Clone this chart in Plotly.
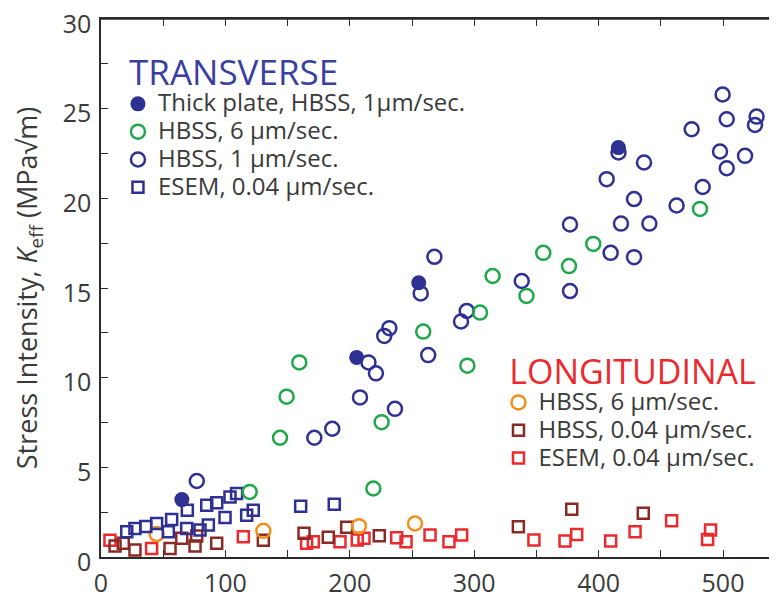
import plotly.graph_objects as go

# ---- data ----
thick_x = [65, 205.5, 255.4, 415.9]
thick_y = [3.2, 11.13, 15.29, 22.83]

t6_x = [119.5, 143.9, 149.2, 159.4, 218.9, 225.6, 259, 294.5, 304.7, 314.8, 342, 355.5, 376.2, 395.7, 481.5]
t6_y = [3.63, 6.65, 8.94, 10.85, 3.82, 7.52, 12.57, 10.67, 13.63, 15.67, 14.56, 16.96, 16.22, 17.46, 19.41]

t1_x = [77, 171.5, 185.9, 208.2, 236.3, 215, 221, 227.7, 231.8, 263, 257, 268, 289.4, 294, 338.2, 377, 377,
        409.7, 428.5, 418, 440.8, 428.5, 406.5, 436.5, 416, 462.7, 483.7, 474.8, 497.6, 503, 517.7, 499.7,
        503, 527, 525.7]
t1_y = [4.24, 6.65, 7.15, 8.9, 8.26, 10.85, 10.24, 12.33, 12.76, 11.26, 14.7, 16.74, 13.13, 13.72, 15.39, 14.83,
        18.54, 16.96, 16.72, 18.59, 18.59, 19.96, 21.07, 22.0, 22.56, 19.6, 20.63, 23.85, 22.61, 21.68, 22.37,
        25.79, 24.41, 24.56, 24.09]

tesem_x = [20.7, 27.3, 36, 44.7, 54.1, 56.8, 68.9, 69.4, 79.6, 85, 86.3, 93, 99.7, 103.7, 109, 117.1, 122.4, 160.5, 187.5]
tesem_y = [1.41, 1.59, 1.7, 1.87, 1.41, 2.09, 1.59, 2.61, 1.5, 2.89, 1.78, 3.02, 2.2, 3.35, 3.54, 2.33, 2.61, 2.83, 2.94]

l6_x = [44.7, 130.5, 207.4, 252.4]
l6_y = [1.28, 1.46, 1.72, 1.87]

l004_x = [11.3, 17.9, 27.3, 55.5, 64.9, 75.6, 76.9, 93, 130.5, 163.2, 182.7, 197.5, 223.7, 335.5, 378.4, 435.9]
l004_y = [0.61, 0.76, 0.39, 0.48, 1.04, 0.61, 1.17, 0.76, 0.94, 1.32, 1.1, 1.66, 1.19, 1.69, 2.66, 2.44]

lesem_x = [7.2, 40.7, 114.4, 165.3, 170.7, 192.1, 206, 211.4, 237.7, 245.2, 264.5, 279.7, 289.9, 348, 373,
           382.4, 409.7, 429.3, 458.7, 487.6, 490]
lesem_y = [0.94, 0.48, 1.13, 0.76, 0.85, 0.85, 0.95, 1.04, 1.08, 0.85, 1.23, 0.85, 1.23, 0.95, 0.89,
           1.26, 0.89, 1.41, 2.02, 0.98, 1.5]

x_ticks = [0, 100, 200, 300, 400, 500]
y_ticks = [0, 5, 10, 15, 20, 25, 30]

# ---- styles ----
NAVY = "#2e3192"
GREEN = "#1fa84a"
ORANGE = "#f0901e"
BROWN = "#8b2a25"
RED = "#ec2a2e"
TXT = "#3a3a3a"
AX = "#2a2a2a"
FONT = "Open Sans"

fig = go.Figure()

def add(x, y, name, color, symbol, size, legend, rank, filled=False):
    fig.add_trace(go.Scatter(
        x=x, y=y, mode="markers",
        name='<span style="font-size:24px">' + name + '</span>',
        legend=legend, legendrank=rank,
        marker=dict(symbol=symbol, size=size,
                    color=color if filled else "rgba(0,0,0,0)",
                    line=dict(color=color, width=0 if filled else 2.5)),
    ))

add(lesem_x, lesem_y, "ESEM, 0.04 µm/sec.", RED, "square", 11, "legend2", 7)
add(l004_x, l004_y, "HBSS, 0.04 µm/sec.", BROWN, "square", 11, "legend2", 6)
add(l6_x, l6_y, "HBSS, 6 µm/sec.", ORANGE, "circle", 14, "legend2", 5)
add(tesem_x, tesem_y, "ESEM, 0.04 µm/sec.", NAVY, "square", 11, "legend", 4)
add(t1_x, t1_y, "HBSS, 1 µm/sec.", NAVY, "circle", 14, "legend", 3)
add(t6_x, t6_y, "HBSS, 6 µm/sec.", GREEN, "circle", 14, "legend", 2)
add(thick_x, thick_y, "Thick plate, HBSS, 1µm/sec.", NAVY, "circle", 15, "legend", 1, filled=True)

axis_common = dict(
    showline=True, linecolor=AX, linewidth=1.5, mirror="ticks",
    ticks="inside", ticklen=7, tickwidth=1.2, tickcolor=AX,
    showgrid=False, zeroline=False, ticklabeloverflow="allow", automargin=False,
    tickfont=dict(family=FONT, size=25, color=TXT),
)

fig.update_xaxes(range=[0, 543.4], tickvals=x_ticks, ticktext=[str(v) for v in x_ticks],
                 minor=dict(dtick=50, ticks="inside", ticklen=7, tickwidth=1.2, tickcolor=AX),
                 ticklabelstandoff=3,
                 **axis_common)
fig.update_yaxes(range=[0, 30], tickvals=y_ticks, ticktext=[str(v) for v in y_ticks],
                 minor=dict(dtick=2.5, ticks="inside", ticklen=7, tickwidth=1.2, tickcolor=AX),
                 ticklabelstandoff=3, ticklabelshift=5,
                 title=dict(text="Stress Intensity, <i>K</i><sub>eff</sub> (MPa√m)",
                            font=dict(family=FONT, size=27, color=TXT), standoff=20),
                 **axis_common)

# top frame edge of the plotting area
fig.add_shape(type="line", xref="paper", yref="paper", x0=0, x1=1, y0=1, y1=1,
              line=dict(color=AX, width=1.5), layer="above")

legend_font = dict(family=FONT, size=19.1, color=TXT)
fig.update_layout(
    width=769, height=585,
    margin=dict(l=93, r=0, t=11, b=36, autoexpand=False),
    paper_bgcolor="white", plot_bgcolor="white",
    legend=dict(
        x=0.0251, y=0.962, xanchor="left", yanchor="top",
        bgcolor="rgba(0,0,0,0)", traceorder="normal",
        font=legend_font, itemwidth=30,
        title=dict(text="\u00a0TRANSVERSE", font=dict(family=FONT, size=35, color="#3a3fa0")),
    ),
    legend2=dict(
        x=0.588, y=0.4046, xanchor="left", yanchor="top",
        bgcolor="rgba(0,0,0,0)", traceorder="normal",
        font=legend_font, itemwidth=30,
        title=dict(text="\u00a0LONGITUDINAL", font=dict(family=FONT, size=34, color=RED)),
    ),
)

fig.write_html("out.html")
